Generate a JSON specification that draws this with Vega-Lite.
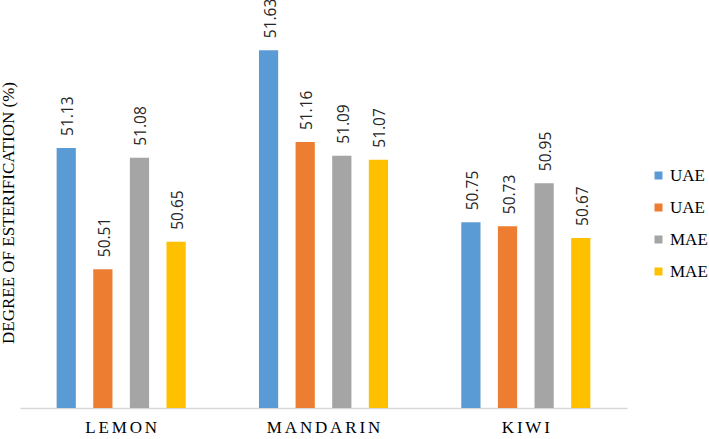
{
  "$schema": "https://vega.github.io/schema/vega-lite/v6.json",
  "width": 607,
  "height": 391,
  "autosize": {"type": "none"},
  "padding": {"left": 20, "top": 17, "right": 82, "bottom": 31},
  "background": "white",
  "config": {"view": {"stroke": null}},
  "data": {
    "values": [
      {"fruit": "LEMON", "series": "UAE_1", "value": 51.13},
      {"fruit": "LEMON", "series": "UAE_2", "value": 50.51},
      {"fruit": "LEMON", "series": "MAE_1", "value": 51.08},
      {"fruit": "LEMON", "series": "MAE_2", "value": 50.65},
      {"fruit": "MANDARIN", "series": "UAE_1", "value": 51.63},
      {"fruit": "MANDARIN", "series": "UAE_2", "value": 51.16},
      {"fruit": "MANDARIN", "series": "MAE_1", "value": 51.09},
      {"fruit": "MANDARIN", "series": "MAE_2", "value": 51.07},
      {"fruit": "KIWI", "series": "UAE_1", "value": 50.75},
      {"fruit": "KIWI", "series": "UAE_2", "value": 50.73},
      {"fruit": "KIWI", "series": "MAE_1", "value": 50.95},
      {"fruit": "KIWI", "series": "MAE_2", "value": 50.67}
    ]
  },
  "encoding": {
    "x": {
      "field": "fruit",
      "type": "nominal",
      "sort": ["LEMON", "MANDARIN", "KIWI"],
      "scale": {"paddingInner": 0, "paddingOuter": 0},
      "axis": {
        "title": null,
        "labelAngle": 0,
        "ticks": false,
        "grid": false,
        "domainColor": "#d9d9d9",
        "domainWidth": 1.5,
        "labelFont": "Liberation Serif",
        "labelFontSize": 17,
        "labelColor": "#000000",
        "labelPadding": 11,
        "labelExpr": "join(split(datum.label, ''), '\u2006')"
      }
    },
    "xOffset": {
      "field": "series",
      "type": "nominal",
      "sort": ["UAE_1", "UAE_2", "MAE_1", "MAE_2"],
      "scale": {"paddingInner": 0.475, "paddingOuter": 1.18}
    },
    "y": {
      "field": "value",
      "type": "quantitative",
      "scale": {"domain": [49.8, 51.8], "zero": false, "nice": false},
      "axis": {
        "title": "DEGREE OF ESTERIFICATION (%)",
        "labels": false,
        "ticks": false,
        "domain": false,
        "grid": false,
        "titleFont": "Liberation Serif",
        "titleFontSize": 17,
        "titleFontWeight": "normal",
        "titleColor": "#000000",
        "titlePadding": 3
      }
    }
  },
  "layer": [
    {
      "mark": {"type": "bar"},
      "encoding": {
        "y2": {"datum": 49.8},
        "color": {
          "field": "series",
          "type": "nominal",
          "scale": {
            "domain": ["UAE_1", "UAE_2", "MAE_1", "MAE_2"],
            "range": ["#5B9BD5", "#ED7D31", "#A5A5A5", "#FFC000"]
          },
          "legend": {
            "title": null,
            "orient": "none",
            "legendX": 630,
            "legendY": 150,
            "symbolType": "square",
            "symbolSize": 64,
            "symbolStrokeWidth": 0,
            "labelFont": "Liberation Serif",
            "labelFontSize": 17,
            "labelColor": "#000000",
            "labelOffset": 3,
            "rowPadding": 14,
            "padding": 0,
            "labelExpr": "split(datum.label, '_')[0]"
          }
        }
      }
    },
    {
      "mark": {
        "type": "text",
        "angle": 270,
        "align": "left",
        "baseline": "middle",
        "dx": 12,
        "dy": 2,
        "font": "Open Sans",
        "fontSize": 15.5,
        "color": "#262626"
      },
      "encoding": {
        "text": {"field": "value", "type": "quantitative", "format": ".2f"}
      }
    }
  ]
}
